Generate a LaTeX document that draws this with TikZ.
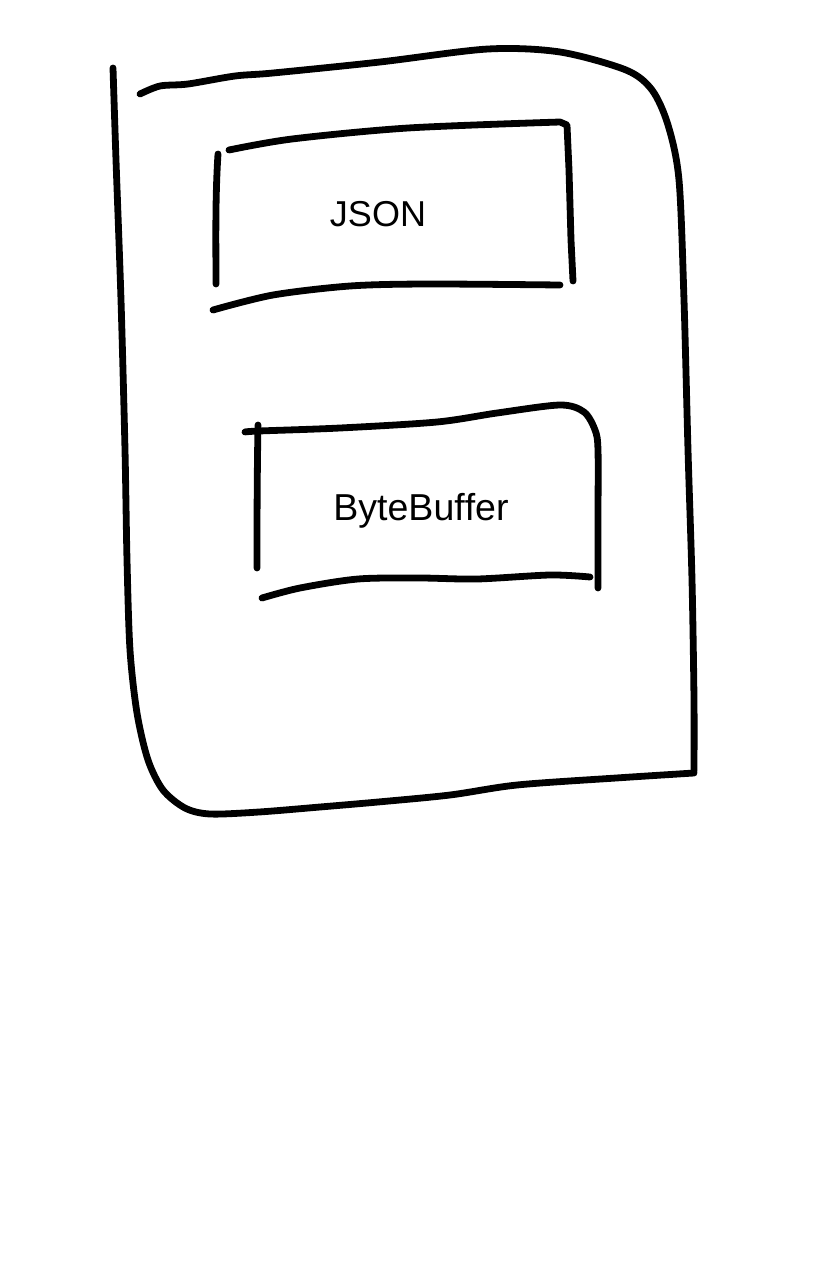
\documentclass[tikz,border=0pt]{standalone}
\usepackage{fontspec}
\setmainfont[Ligatures=NoCommon]{Liberation Sans}
\begin{document}
\begin{tikzpicture}[x=1pt,y=-1pt,
  ink/.style={line width=6.8pt,line cap=round,line join=round},
  lbl/.style={font=\fontsize{36}{40}\selectfont,anchor=base,inner sep=0pt}]
\useasboundingbox[fill=white] (0,0) rectangle (823,1280);
% outer frame
\draw[ink] plot[smooth,tension=0.5] coordinates {(113,68) (116,160) (121,300) (125,450) (127,560) (130,650) (137,713) (148,760) (163,790) (185,808) (210,814) (259,812) (320,807) (378,802) (450,795) (517,785) (616,778) (694,773)};
\draw[ink] plot[smooth,tension=0.5] coordinates {(140,94) (160,86) (188,84) (235,76) (273,73) (380,62) (488,49) (560,52) (626,70) (652,90) (668,125) (679,180) (684,300) (688,450) (692,580) (694,700) (694,771)};
% JSON box
\draw[ink] (218,154) .. controls (215,200) and (216,250) .. (216,284);
\draw[ink] plot[smooth,tension=0.5] coordinates {(229,150) (292,139) (408,128) (560,122)} -- (567,125) -- (569,170) -- (571,240) -- (573,281);
\draw[ink] plot[smooth,tension=0.5] coordinates {(213,310) (273,295) (350,286) (427,284) (560,285)};
\node[lbl] (json) at (378,226) {JSON};
% ByteBuffer box
\draw[ink] (258,425) .. controls (257,480) and (257,530) .. (257,568);
\draw[ink] plot[smooth,tension=0.5] coordinates {(245,432) (259,431) (340,428) (437,422) (497,413) (560,405) (584,412) (595,430) (598,450) (598,520) (598,588)};
\draw[ink] plot[smooth,tension=0.5] coordinates {(262,598) (300,588) (358,579) (420,578) (477,579) (550,575) (590,577)};
\node[lbl,font=\fontsize{37.5}{40}\selectfont] (bb) at (421,520) {ByteBuf\kern0pt fer};
\end{tikzpicture}
\end{document}
